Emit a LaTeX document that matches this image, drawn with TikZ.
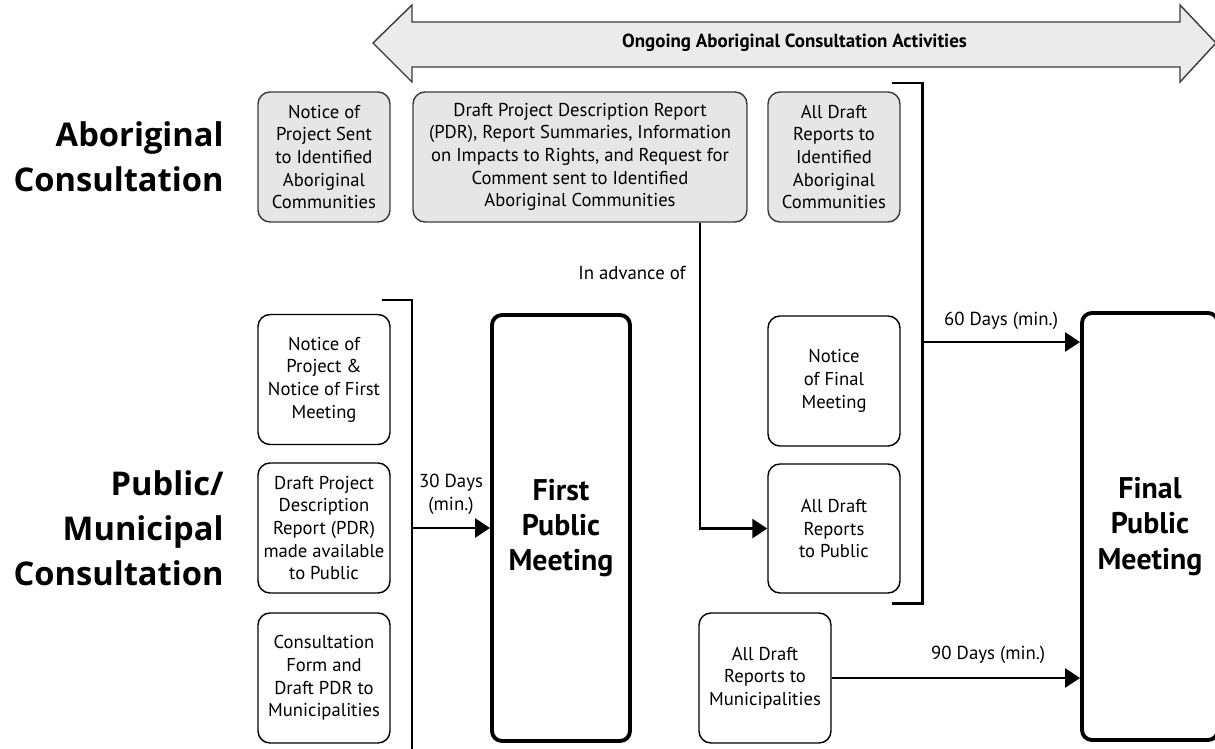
\documentclass[tikz,border=0pt]{standalone}
\usepackage{fontspec}
\setmainfont{PT Sans}
\newfontfamily\headfont{Open Sans}
\definecolor{boxgray}{HTML}{E6E6E6}
\definecolor{arrowgray}{HTML}{EBEBEB}
\definecolor{edgegray}{HTML}{3A3A3A}
\usetikzlibrary{arrows.meta}
\usetikzlibrary{calc}

\begin{document}
\begin{tikzpicture}[
	box/.style={draw=black, line width=0.8pt, rounded corners=2.4mm, align=center, inner sep=0pt,
		font=\fontsize{10.6}{12.9}\selectfont, minimum width=2.64cm, minimum height=2.6cm},
	abox/.style={box, fill=boxgray, draw=edgegray},
	meeting/.style={draw, line width=2.2pt, rounded corners=2mm, align=center,
		font=\fontsize{17}{20}\selectfont\bfseries, minimum width=2.76cm, minimum height=8.52cm},
	arr/.style={line width=1.5pt, -{Triangle[length=3mm,width=3.8mm]}},
	brace/.style={line width=1.7pt},
	heading/.style={font=\headfont\bfseries\fontsize{18.6}{25.5}\selectfont, align=right, anchor=east, inner sep=0pt},
	lab/.style={font=\fontsize{10.7}{12.9}\selectfont, align=center, inner sep=0pt}
	]
	\useasboundingbox (0,0) rectangle (24.3,-14.98);
	% row headings
	\node[heading] (abohead) at (4.48,-3.14) {Aboriginal\\Consultation};
	\node[heading] (pubhead) at (4.48,-10.56) {Public/\\Municipal\\Consultation};
	% ongoing activities arrow
	\draw[edgegray, fill=arrowgray, line width=0.8pt] (7.46,-0.86) -- (8.24,-0.1) -- (8.24,-0.44)
	-- (23.6,-0.44) -- (23.6,-0.1) -- (24.32,-0.86) -- (23.6,-1.64) -- (23.6,-1.34)
	-- (8.24,-1.34) -- (8.24,-1.64) -- cycle;
	\node[font=\fontsize{10.8}{12}\selectfont\bfseries] (ongoing) at (15.89,-0.86) {Ongoing Aboriginal Consultation Activities};
	% aboriginal row
	\node[abox] (noticeabo) at (6.48,-3.14) {Notice of\\Project Sent\\to Identified\\Aboriginal\\Communities};
	\node[abox, minimum width=6.68cm] (pdrabo) at (11.6,-3.14) {Draft Project Description Report\\(PDR), Report Summaries, Information\\on Impacts to Rights, and Request for\\Comment sent to Identified\\Aboriginal Communities};
	\node[abox] (draftabo) at (16.68,-3.14) {All Draft\\Reports to\\Identified\\Aboriginal\\Communities};
	% public row
	\foreach \y/\nm/\txt in {-7.59/noticepub/{Notice of\\Project \&\\Notice of First\\Meeting},
		-10.56/pdrpub/{Draft Project\\Description\\Report (PDR)\\made available\\to Public},
		-13.56/formmun/{Consultation\\Form and\\Draft PDR to\\Municipalities}}
	\node[box] (\nm) at (6.48,\y) {\txt};
	\node[meeting] (firstmeet) at (11.22,-10.56) {First\\Public\\Meeting};
	\node[box] (noticefinal) at (16.68,-7.62) {Notice\\of Final\\Meeting};
	\node[box, minimum height=2.58cm] (draftpub) at (16.68,-10.57) {All Draft\\Reports\\to Public};
	\node[box] (draftmun) at (15.3,-13.56) {All Draft\\Reports to\\Municipalities};
	\node[meeting, minimum width=2.72cm, minimum height=8.54cm] (finalmeet) at (23.0,-10.53) {Final\\Public\\Meeting};
	% brackets and connectors
	\coordinate (lbtop) at (7.64,-6.0);
	\coordinate (lbbot) at (8.24,-15.2);
	\draw[brace] (lbtop) -| (lbbot);
	\draw[arr] (lbbot |- firstmeet.west) -- node[lab, above=2.4mm] {30 Days\\(min.)} (firstmeet.west);
	\coordinate (rbtop) at (17.84,-1.66);
	\coordinate (rbbot) at (17.84,-12.06);
	\draw[brace] (rbtop) -- ++(0.6,0) |- (rbbot);
	\coordinate (sixty) at (18.44,-6.84);
	\draw[arr] (sixty) -- node[lab, above=2.2mm] {60 Days (min.)} (sixty -| finalmeet.west);
	\draw[arr] (draftmun.east) -- node[lab, pos=0.63, above=2.6mm] {90 Days (min.)} (draftmun.east -| finalmeet.west);
	\coordinate (advance) at (14.0,0);
	\draw[arr] (pdrabo.south -| advance) |- node[lab, pos=0.083, left=2.6mm] {In advance of} (draftpub.west);
\end{tikzpicture}
\end{document}
